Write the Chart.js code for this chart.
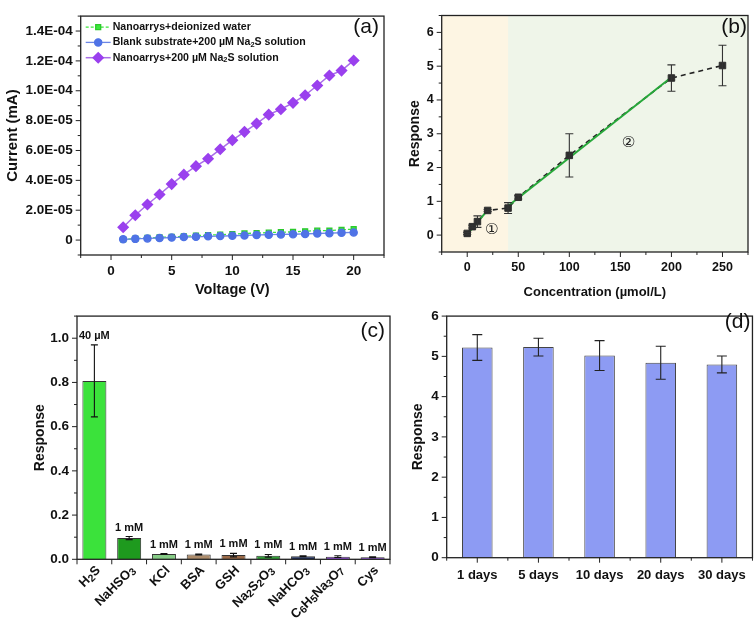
<!DOCTYPE html>
<html>
<head>
<meta charset="utf-8">
<script src="https://cdn.jsdelivr.net/npm/chart.js@4.4.0/dist/chart.umd.min.js"></script>
<style>
  body { margin: 0; background: #fff; }
  #fig { position: relative; width: 756px; height: 618px; background: #fff; }
  #fig canvas { position: absolute; }
</style>
</head>
<body>
<div id="fig">
  <canvas id="chartA" width="392" height="300" style="left:0;top:0"></canvas>
  <canvas id="chartB" width="364" height="300" style="left:392px;top:0"></canvas>
  <canvas id="chartC" width="395" height="318" style="left:0;top:300px"></canvas>
  <canvas id="chartD" width="361" height="318" style="left:395px;top:300px"></canvas>
</div>
<script>
// ---- data ----
// (a) I-V curves
const voltage = [1, 2, 3, 4, 5, 6, 7, 8, 9, 10, 11, 12, 13, 14, 15, 16, 17, 18, 19, 20];
const currentWater = [4e-7, 1.0e-6, 1.4e-6, 1.8e-6, 2.2e-6, 2.5e-6, 3.0e-6, 3.3e-6, 3.6e-6, 4.0e-6,
                      4.4e-6, 4.7e-6, 5.0e-6, 5.3e-6, 5.5e-6, 5.9e-6, 6.3e-6, 6.4e-6, 6.9e-6, 7.3e-6];
const currentBlank = [5e-7, 8e-7, 1.1e-6, 1.4e-6, 1.7e-6, 2.0e-6, 2.2e-6, 2.5e-6, 2.7e-6, 2.9e-6,
                      3.1e-6, 3.4e-6, 3.6e-6, 3.8e-6, 3.9e-6, 4.1e-6, 4.4e-6, 4.6e-6, 4.9e-6, 5.1e-6];
const currentNa2S = [8.6e-6, 1.66e-5, 2.38e-5, 3.05e-5, 3.75e-5, 4.38e-5, 4.95e-5, 5.45e-5, 6.08e-5, 6.69e-5,
                     7.25e-5, 7.8e-5, 8.4e-5, 8.76e-5, 9.19e-5, 9.7e-5, 1.035e-4, 1.102e-4, 1.135e-4, 1.203e-4];
const seriesA = ['Nanoarrys+deionized water', 'Blank substrate+200 µM Na₂S solution', 'Nanoarrys+200 µM Na₂S solution'];

// (b) calibration
const bConc = [0, 5, 10, 20, 40, 50, 100, 200, 250];
const bResp = [0.05, 0.25, 0.40, 0.73, 0.80, 1.12, 2.36, 4.65, 5.02];
const bErr = [0.03, 0.04, 0.17, 0.03, 0.16, 0.05, 0.64, 0.39, 0.60];
const fit1X = [0, 20];
const fit1Y = [0.02, 0.74];
const fit2X = [40, 200];
const fit2Y = [0.86, 4.67];
const bRegionEdge = 40;
const bNotes = [{ text: '①', x: 24, y: 0.14 }, { text: '②', x: 158, y: 2.71 }];

// (c) selectivity
const cLabels = ['H₂S', 'NaHSO₃', 'KCl', 'BSA', 'GSH', 'Na₂S₂O₃', 'NaHCO₃', 'C₆H₅Na₃O₇', 'Cys'];
const cResp = [0.807, 0.096, 0.024, 0.022, 0.019, 0.016, 0.014, 0.012, 0.009];
const cErr = [0.163, 0.007, 0.002, 0.002, 0.008, 0.006, 0.002, 0.004, 0.002];
const cConc = ['40 µM', '1 mM', '1 mM', '1 mM', '1 mM', '1 mM', '1 mM', '1 mM', '1 mM'];
const cColors = ['#3be23b', '#1e9a1e', '#86cc86', '#ad8c6b', '#9b6a48', '#33a138', '#1c2c58', '#9a4fe8', '#8a3ce6'];

// (d) stability
const dLabels = ['1 days', '5 days', '10 days', '20 days', '30 days'];
const dResp = [5.22, 5.23, 5.02, 4.84, 4.80];
const dErr = [0.32, 0.22, 0.37, 0.41, 0.21];

// ---- helpers ----
const FONT = '"Liberation Sans", Arial, sans-serif';
Chart.defaults.font.family = FONT;
Chart.defaults.color = '#111';

const pts = (xs, ys) => xs.map((x, i) => ({ x: x, y: ys[i] }));
const SUBS = '₀₁₂₃₄₅₆₇₈₉';

// splits text into [string, isSubscript] pieces
function richParts(text) {
    const parts = [];
    for (const ch of text) {
        const k = SUBS.indexOf(ch);
        const sub = k >= 0;
        const c = sub ? String(k) : ch;
        if (parts.length && parts[parts.length - 1][1] === sub) parts[parts.length - 1][0] += c;
        else parts.push([c, sub]);
    }
    return parts;
}

function richWidth(ctx, text, size, weight, subScale) {
    let w = 0;
    for (const [s, sub] of richParts(text)) {
        ctx.font = weight + ' ' + (sub ? size * subScale : size) + 'px ' + FONT;
        w += ctx.measureText(s).width;
    }
    return w;
}

function drawRich(ctx, text, x, y, size, weight, subScale, subDrop) {
    let cx = x;
    ctx.textAlign = 'left';
    for (const [s, sub] of richParts(text)) {
        ctx.font = weight + ' ' + (sub ? size * subScale : size) + 'px ' + FONT;
        ctx.fillText(s, cx, sub ? y + size * subDrop : y);
        cx += ctx.measureText(s).width;
    }
}

function fmtE(v) {
    if (Math.abs(v) < 1e-12) return '0';
    const idx = Math.round(v / 1e-5);
    if (idx % 2 !== 0 || idx < 0 || idx > 14) return '';
    const [m, e] = v.toExponential(1).split('e');
    const n = parseInt(e, 10);
    return m + 'E' + (n < 0 ? '-' : '+') + String(Math.abs(n)).padStart(2, '0');
}

const frame = {
    id: 'frame',
    afterDraw(chart) {
        const { ctx, chartArea: a } = chart;
        ctx.save();
        ctx.strokeStyle = '#222';
        ctx.lineWidth = 1.3;
        ctx.strokeRect(a.left, a.top, a.right - a.left, a.bottom - a.top);
        ctx.restore();
    }
};

function tickMarks(catMode) {
    return {
        id: 'tickMarks',
        afterDraw(chart) {
            const ctx = chart.ctx, a = chart.chartArea;
            ctx.save();
            ctx.strokeStyle = '#222';
            ctx.lineWidth = 1;
            for (const s of [chart.scales.x, chart.scales.y]) {
                const marks = [];
                if (s.type === 'category') {
                    const n = chart.data.labels.length;
                    for (let i = 0; i <= n; i++) marks.push([s.getPixelForValue(i - 0.5), catMode !== 'both']);
                    if (catMode === 'both') for (let i = 0; i < n; i++) marks.push([s.getPixelForValue(i), true]);
                } else {
                    s.ticks.forEach((t, i) => marks.push([s.getPixelForTick(i), t.label !== '']));
                }
                ctx.beginPath();
                for (const [p, major] of marks) {
                    const len = major ? 5 : 3;
                    if (s.isHorizontal()) {
                        ctx.moveTo(p, a.bottom);
                        ctx.lineTo(p, a.bottom + len);
                    } else {
                        ctx.moveTo(a.left, p);
                        ctx.lineTo(a.left - len, p);
                    }
                }
                ctx.stroke();
            }
            ctx.restore();
        }
    };
}

function errorBars(cap, color) {
    return {
        id: 'errorBars',
        afterDatasetsDraw(chart) {
            const ctx = chart.ctx, ys = chart.scales.y;
            ctx.save();
            ctx.strokeStyle = color;
            ctx.lineWidth = 1.1;
            chart.data.datasets.forEach((ds, di) => {
                if (!ds.errors) return;
                chart.getDatasetMeta(di).data.forEach((el, i) => {
                    const v = ds.data[i].y !== undefined ? ds.data[i].y : ds.data[i];
                    const top = ys.getPixelForValue(v + ds.errors[i]);
                    const bot = ys.getPixelForValue(v - ds.errors[i]);
                    ctx.beginPath();
                    ctx.moveTo(el.x, top); ctx.lineTo(el.x, bot);
                    ctx.moveTo(el.x - cap / 2, top); ctx.lineTo(el.x + cap / 2, top);
                    ctx.moveTo(el.x - cap / 2, bot); ctx.lineTo(el.x + cap / 2, bot);
                    ctx.stroke();
                });
            });
            ctx.restore();
        }
    };
}

function panelTag(text, dx, dy) {
    return {
        id: 'panelTag',
        afterDraw(chart) {
            const ctx = chart.ctx, a = chart.chartArea;
            ctx.save();
            ctx.font = '21px ' + FONT;
            ctx.fillStyle = '#111';
            ctx.textAlign = 'right';
            ctx.textBaseline = 'top';
            ctx.fillText(text, a.right - dx, a.top + dy);
            ctx.restore();
        }
    };
}

const legendA = {
    id: 'legendA',
    afterDraw(chart) {
        const ctx = chart.ctx, a = chart.chartArea;
        chart.data.datasets.forEach((ds, i) => {
            const y = a.top + 11 + i * 15.3;
            const x0 = a.left + 5, x1 = a.left + 30;
            ctx.save();
            ctx.strokeStyle = ds.borderColor;
            ctx.lineWidth = ds.borderWidth;
            ctx.setLineDash(ds.borderDash || []);
            ctx.beginPath();
            ctx.moveTo(x0, y); ctx.lineTo(x1, y);
            ctx.stroke();
            ctx.setLineDash([]);
            ctx.fillStyle = ds.pointBackgroundColor;
            ctx.strokeStyle = ds.pointBorderColor;
            Chart.helpers.drawPoint(ctx, { pointStyle: ds.pointStyle, radius: ds.pointRadius, borderWidth: 1, rotation: 0 }, (x0 + x1) / 2, y);
            ctx.fillStyle = '#111';
            ctx.textBaseline = 'middle';
            drawRich(ctx, ds.label, x1 + 2, y, 10.6, 'bold', 0.7, 0.25);
            ctx.restore();
        });
    }
};

const regionsB = {
    id: 'regionsB',
    beforeDatasetsDraw(chart) {
        const ctx = chart.ctx, a = chart.chartArea;
        const xe = chart.scales.x.getPixelForValue(bRegionEdge);
        ctx.save();
        ctx.fillStyle = '#fdf5e3';
        ctx.fillRect(a.left, a.top, xe - a.left, a.bottom - a.top);
        ctx.fillStyle = '#eff5e9';
        ctx.fillRect(xe, a.top, a.right - xe, a.bottom - a.top);
        ctx.restore();
    }
};

const notesB = {
    id: 'notesB',
    afterDatasetsDraw(chart) {
        const ctx = chart.ctx;
        ctx.save();
        ctx.font = '15px "DejaVu Sans", "Noto Sans CJK SC", sans-serif';
        ctx.fillStyle = '#222';
        ctx.textAlign = 'center';
        ctx.textBaseline = 'middle';
        bNotes.forEach(n => ctx.fillText(n.text, chart.scales.x.getPixelForValue(n.x), chart.scales.y.getPixelForValue(n.y)));
        ctx.restore();
    }
};

const concC = {
    id: 'concC',
    afterDatasetsDraw(chart) {
        const ctx = chart.ctx, ys = chart.scales.y;
        const meta = chart.getDatasetMeta(0);
        ctx.save();
        ctx.font = 'bold 11px ' + FONT;
        ctx.fillStyle = '#111';
        ctx.textAlign = 'center';
        ctx.textBaseline = 'alphabetic';
        meta.data.forEach((el, i) => {
            ctx.fillText(cConc[i], el.x, ys.getPixelForValue(cResp[i] + cErr[i]) - 6);
        });
        ctx.restore();
    }
};

// rotated category labels for (c), with chemical subscripts
const labelsC = {
    id: 'labelsC',
    afterDraw(chart) {
        const ctx = chart.ctx, a = chart.chartArea, xs = chart.scales.x;
        ctx.save();
        ctx.fillStyle = '#111';
        ctx.textBaseline = 'middle';
        chart.data.labels.forEach((lab, i) => {
            const w = richWidth(ctx, lab, 13, 'bold', 0.8);
            ctx.save();
            ctx.translate(xs.getPixelForValue(i) + 4, a.bottom + 9);
            ctx.rotate(-Math.PI / 4);
            drawRich(ctx, lab, -w, 0, 13, 'bold', 0.8, 0.2);
            ctx.restore();
        });
        ctx.restore();
    }
};

const noChrome = { legend: { display: false }, tooltip: { enabled: false } };
const hideGrid = { display: false, drawTicks: false };

// ---- (a) ----
new Chart(document.getElementById('chartA'), {
    type: 'line',
    data: {
        datasets: [{
            label: seriesA[0],
            data: pts(voltage, currentWater),
            borderColor: '#3be83b', borderWidth: 1.3, borderDash: [3, 2],
            pointStyle: 'rect', pointRadius: 3.5,
            pointBackgroundColor: '#3be83b', pointBorderColor: '#2cc92c',
            order: 2
        }, {
            label: seriesA[1],
            data: pts(voltage, currentBlank),
            borderColor: '#6b86e6', borderWidth: 1.3,
            pointStyle: 'circle', pointRadius: 3.6,
            pointBackgroundColor: '#4f73e6', pointBorderColor: '#4f73e6',
            order: 1
        }, {
            label: seriesA[2],
            data: pts(voltage, currentNa2S),
            borderColor: '#a96ee8', borderWidth: 1.5,
            pointStyle: 'rectRot', pointRadius: 5,
            pointBackgroundColor: '#9a40ee', pointBorderColor: '#9a40ee',
            order: 0
        }]
    },
    options: {
        responsive: false, animation: false,
        layout: { padding: { left: 0, top: 5, right: 3, bottom: 0 } },
        plugins: noChrome,
        scales: {
            x: {
                type: 'linear', min: -2.5, max: 22.5,
                grid: hideGrid, border: { display: false },
                ticks: { stepSize: 2.5, autoSkip: false, maxRotation: 0, padding: 8, font: { size: 13.5, weight: 'bold' },
                         callback: v => (v % 5 === 0 && v >= 0 && v <= 20) ? String(v) : '' },
                title: { display: true, text: 'Voltage (V)', font: { size: 14.5, weight: 'bold' }, padding: { top: 0, bottom: 1 } },
                afterFit: s => { s.height = 45; }
            },
            y: {
                min: -1e-5, max: 1.5e-4,
                grid: hideGrid, border: { display: false },
                ticks: { stepSize: 1e-5, autoSkip: false, padding: 8, font: { size: 13.5, weight: 'bold' }, callback: fmtE },
                title: { display: true, text: 'Current (mA)', font: { size: 15, weight: 'bold' }, padding: { top: 4, bottom: 0 } },
                afterFit: s => { s.width = 80.7; }
            }
        }
    },
    plugins: [frame, tickMarks(), legendA, panelTag('(a)', 5, 1)]
});

// ---- (b) ----
new Chart(document.getElementById('chartB'), {
    type: 'line',
    data: {
        datasets: [{
            data: pts(bConc, bResp), errors: bErr,
            showLine: false, pointStyle: 'rect', pointRadius: 4.6,
            pointBackgroundColor: '#2e2e2e', pointBorderColor: '#2e2e2e'
        }, {
            data: pts(fit1X, fit1Y),
            borderColor: '#27a83a', borderWidth: 2, pointRadius: 0
        }, {
            data: pts(fit2X, fit2Y),
            borderColor: '#27a83a', borderWidth: 2, pointRadius: 0
        }, {
            data: pts(bConc, bResp),
            borderColor: '#222', borderWidth: 1.6, borderDash: [5, 4], pointRadius: 0
        }]
    },
    options: {
        responsive: false, animation: false,
        layout: { padding: { left: 0, top: 3.5, right: 6.7, bottom: 0 } },
        plugins: noChrome,
        scales: {
            x: {
                type: 'linear', min: -25, max: 275,
                grid: hideGrid, border: { display: false },
                ticks: { stepSize: 25, autoSkip: false, maxRotation: 0, padding: 8, font: { size: 12.5, weight: 'bold' },
                         callback: v => (v % 50 === 0 && v >= 0 && v <= 250) ? String(v) : '' },
                title: { display: true, text: 'Concentration (µmol/L)', font: { size: 13, weight: 'bold' }, padding: { top: 0, bottom: 0 } },
                afterFit: s => { s.height = 48; }
            },
            y: {
                min: -0.5, max: 6.5,
                grid: hideGrid, border: { display: false },
                ticks: { stepSize: 0.5, autoSkip: false, padding: 8, font: { size: 12.5, weight: 'bold' },
                         callback: v => (Number.isInteger(v) && v >= 0 && v <= 6) ? String(v) : '' },
                title: { display: true, text: 'Response', font: { size: 14, weight: 'bold' }, padding: { top: 15, bottom: 0 } },
                afterFit: s => { s.width = 49.7; }
            }
        }
    },
    plugins: [regionsB, frame, tickMarks(), errorBars(8, '#333'), notesB, panelTag('(b)', 1, 1)]
});

// ---- (c) ----
new Chart(document.getElementById('chartC'), {
    type: 'bar',
    data: {
        labels: cLabels,
        datasets: [{
            data: cResp, errors: cErr,
            backgroundColor: cColors, borderColor: '#333', borderWidth: 1,
            barPercentage: 0.69, categoryPercentage: 1
        }]
    },
    options: {
        responsive: false, animation: false,
        layout: { padding: { left: 0, top: 7.3, right: 5, bottom: 0 } },
        plugins: noChrome,
        scales: {
            x: {
                grid: hideGrid, border: { display: false },
                ticks: { display: false },
                afterFit: s => { s.height = 58.7; }
            },
            y: {
                min: 0, max: 1.1,
                grid: hideGrid, border: { display: false },
                ticks: { stepSize: 0.1, autoSkip: false, padding: 8, font: { size: 13.5, weight: 'bold' },
                         callback: v => (Math.round(v * 10) % 2 === 0 && v < 1.05) ? v.toFixed(1) : '' },
                title: { display: true, text: 'Response', font: { size: 14, weight: 'bold' }, padding: { top: 32, bottom: 0 } },
                afterFit: s => { s.width = 77; }
            }
        }
    },
    plugins: [frame, tickMarks('between'), errorBars(7, '#111'), concC, labelsC, panelTag('(c)', 5, 5)]
});

// ---- (d) ----
new Chart(document.getElementById('chartD'), {
    type: 'bar',
    data: {
        labels: dLabels,
        datasets: [{
            data: dResp, errors: dErr,
            backgroundColor: '#8d9bf3', borderColor: '#444', borderWidth: 1,
            barPercentage: 0.5, categoryPercentage: 1
        }]
    },
    options: {
        responsive: false, animation: false,
        layout: { padding: { left: 0, top: 10, right: 2.7, bottom: 0 } },
        plugins: noChrome,
        scales: {
            x: {
                grid: hideGrid, border: { display: false },
                ticks: { autoSkip: false, maxRotation: 0, padding: 10, font: { size: 13, weight: 'bold' } },
                afterFit: s => { s.height = 60.3; }
            },
            y: {
                min: 0, max: 6,
                grid: hideGrid, border: { display: false },
                ticks: { stepSize: 0.5, autoSkip: false, padding: 8, font: { size: 13.5, weight: 'bold' },
                         callback: v => Number.isInteger(v) ? String(v) : '' },
                title: { display: true, text: 'Response', font: { size: 14, weight: 'bold' }, padding: { top: 15, bottom: 0 } },
                afterFit: s => { s.width = 51.7; }
            }
        }
    },
    plugins: [frame, tickMarks('both'), errorBars(10, '#222'), panelTag('(d)', 2, -4)]
});
</script>
</body>
</html>
